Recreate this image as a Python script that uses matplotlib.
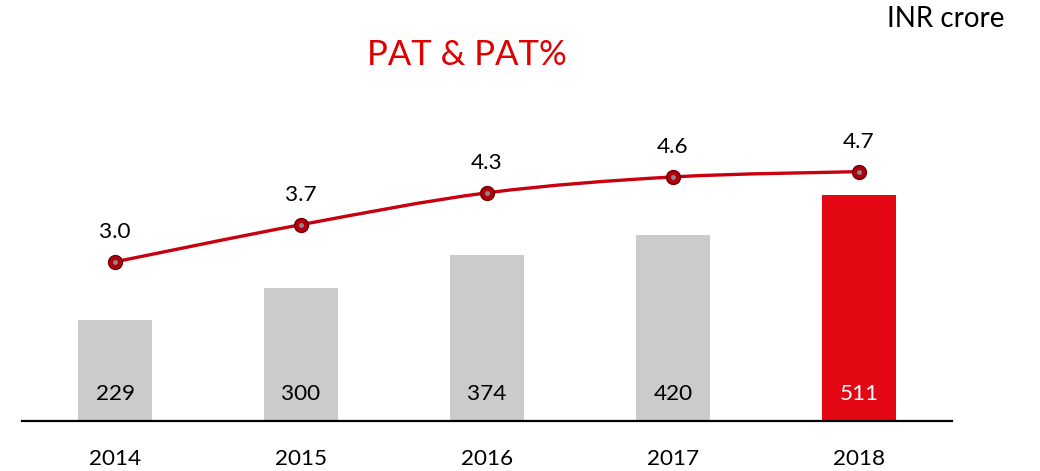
import numpy as np
import matplotlib
matplotlib.use("Agg")
import matplotlib.pyplot as plt
from matplotlib.path import Path
from matplotlib.patches import PathPatch

plt.rcParams['font.family'] = ['Lato', 'DejaVu Sans']

# --- dados ---
years = ['2014', '2015', '2016', '2017', '2018']
pat = [229, 300, 374, 420, 511]
pat_pct = [3.0, 3.7, 4.3, 4.6, 4.7]
pct_labels = ['3.0', '3.7', '4.3', '4.6', '4.7']

GRAY = '#CBCBCB'
RED_BAR = '#E30613'
RED_LINE = '#C8000F'

fig = plt.figure(figsize=(10.4, 4.71), dpi=100)
ax = fig.add_axes([22 / 1040, 1 - 421 / 471, 930 / 1040, 321 / 471])
ax2 = ax.twinx()

x = np.arange(len(years))
colors = [GRAY] * (len(years) - 1) + [RED_BAR]
ax.bar(x, pat, width=0.40, color=colors, zorder=2)
ax.set_xlim(-0.5, 4.5)
ax.set_ylim(0, 725)

for i, v in enumerate(pat):
    c = 'white' if i == len(pat) - 1 else 'black'
    ax.text(x[i], 62, str(v), ha='center', va='center', fontsize=16.2, color=c, zorder=3)

# eixo
for s in ['top', 'right', 'left']:
    ax.spines[s].set_visible(False)
    ax2.spines[s].set_visible(False)
ax2.spines['bottom'].set_visible(False)
ax.spines['bottom'].set_linewidth(1.6)
ax.spines['bottom'].set_color('black')
ax.set_yticks([])
ax2.set_yticks([])
ax.set_xticks(x)
ax.set_xticklabels(years, fontsize=16.2)
ax.tick_params(axis='x', length=0, pad=20)

# linha suavizada (curva Catmull-Rom -> Bezier)
ax2.set_ylim(0, 6.05)
px = np.array(x, dtype=float)
py = np.array(pat_pct)
verts = [(px[0], py[0])]
codes = [Path.MOVETO]
n = len(px)
for i in range(n - 1):
    p0 = (px[max(i - 1, 0)], py[max(i - 1, 0)])
    p1 = (px[i], py[i])
    p2 = (px[i + 1], py[i + 1])
    p3 = (px[min(i + 2, n - 1)], py[min(i + 2, n - 1)])
    c1 = (p1[0] + (p2[0] - p0[0]) / 6, p1[1] + (p2[1] - p0[1]) / 6)
    c2 = (p2[0] - (p3[0] - p1[0]) / 6, p2[1] - (p3[1] - p1[1]) / 6)
    verts += [c1, c2, p2]
    codes += [Path.CURVE4] * 3
ax2.add_patch(PathPatch(Path(verts, codes), fill=False, edgecolor=RED_LINE, lw=2.4, zorder=4))

ax2.plot(px, py, 'o', ms=10, mfc='#B0000C', mec='#700008', mew=1, zorder=5)
ax2.plot(px, py, 'o', ms=3.5, mfc='#8A8A8A', mec='none', zorder=6)

for i, lab in enumerate(pct_labels):
    ax2.text(px[i], py[i] + 0.56, lab, ha='center', va='center', fontsize=16.2, color='black')

fig.text(467 / 1040, 1 - 55 / 471, 'PAT & PAT%', ha='center', va='center',
         fontsize=25, color='#E00000')
fig.text(946 / 1040, 1 - 19 / 471, 'INR crore', ha='center', va='center',
         fontsize=20, color='black')

fig.savefig('out.png', dpi=100)
